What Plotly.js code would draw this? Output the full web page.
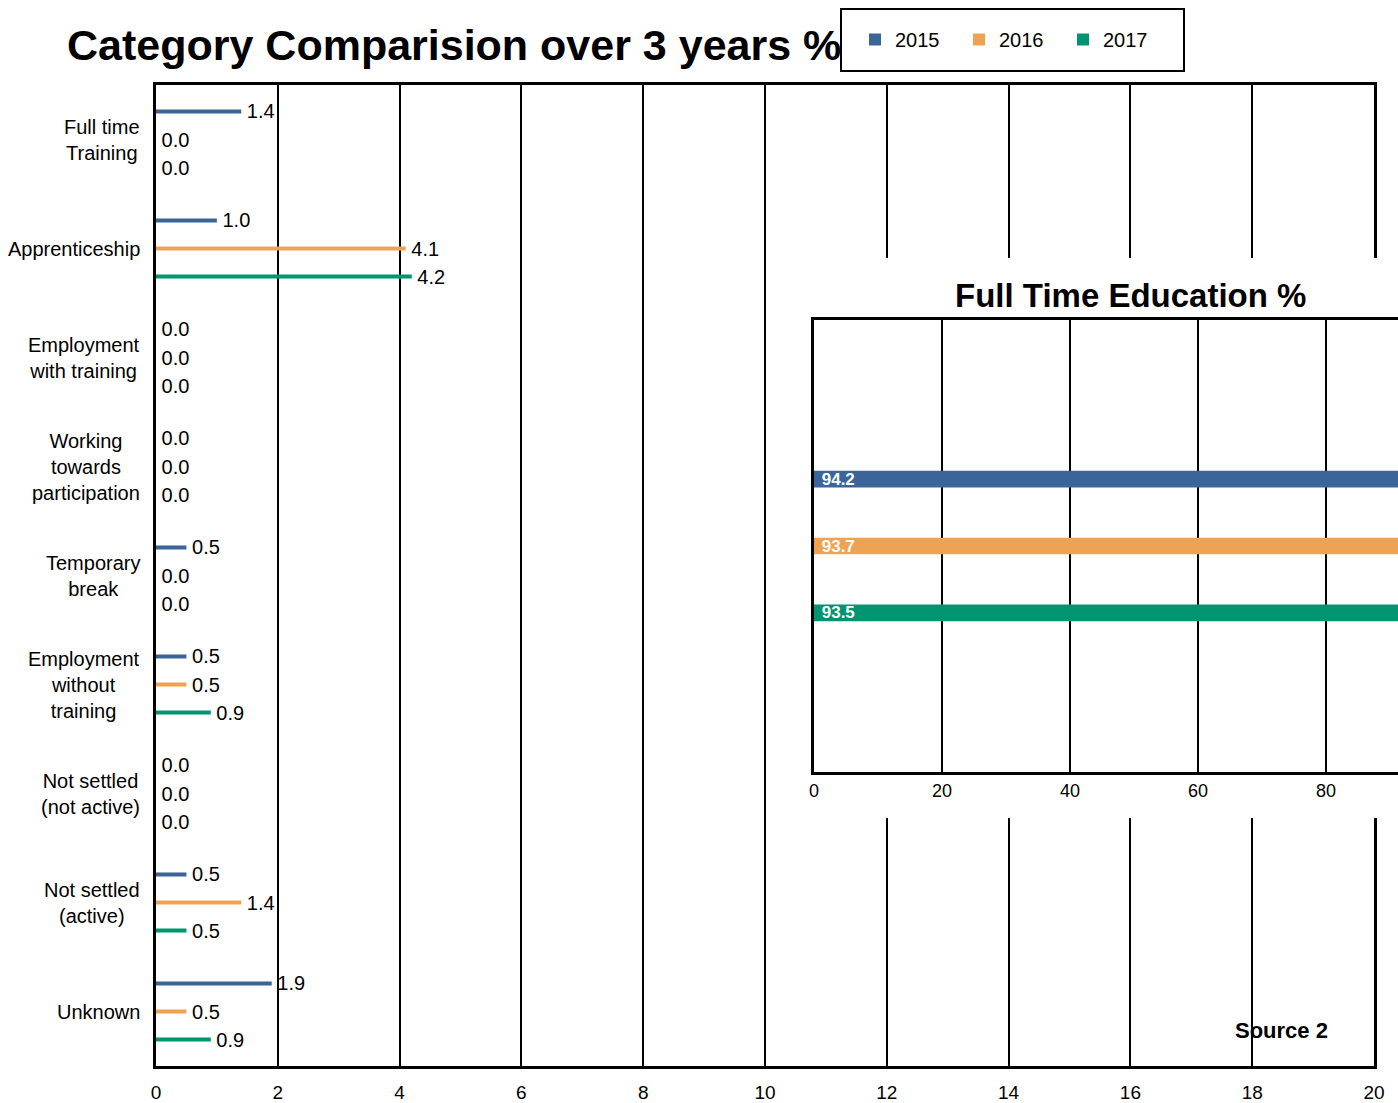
<!DOCTYPE html>
<html>
<head>
<meta charset="utf-8">
<script src="https://cdn.plot.ly/plotly-3.0.1.min.js"></script>
<style>html,body{margin:0;padding:0;background:#fff;}#chart{width:1398px;height:1103px;}</style>
</head>
<body>
<div id="chart"></div>
<script>
// ---- data ----
const categories = [
  "Full time<br>Training",
  "Apprenticeship",
  "Employment<br>with training",
  "Working<br>towards<br>participation",
  "Temporary<br>break",
  "Employment<br>without<br>training",
  "Not settled<br>(not active)",
  "Not settled<br>(active)",
  "Unknown"
];
const years = ["2015", "2016", "2017"];
const values2015 = [1.4, 1.0, 0.0, 0.0, 0.5, 0.5, 0.0, 0.5, 1.9];
const values2016 = [0.0, 4.1, 0.0, 0.0, 0.0, 0.5, 0.0, 1.4, 0.5];
const values2017 = [0.0, 4.2, 0.0, 0.0, 0.0, 0.9, 0.0, 0.5, 0.9];
const insetCategory = ["Full Time Education"];
const insetValues = [94.2, 93.7, 93.5];
const xTicks = [0, 2, 4, 6, 8, 10, 12, 14, 16, 18, 20];
const insetTicks = [0, 20, 40, 60, 80];

// ---- styles ----
const colors = ["#3B6598", "#EFA352", "#009470"];
const FONT = "Liberation Sans, Arial, sans-serif";
const seriesValues = [values2015, values2016, values2017];

const W = 1398, H = 1103, ML = 156, MR = 0, MT = 85, MB = 37;
const PW = W - ML - MR, PH = H - MT - MB;
const px = v => (v - ML) / PW;
const py = v => (H - MB - v) / PH;

const traces = [];
const mainW = 0.037, mainOff = 0.257;
years.forEach((yr, i) => {
  traces.push({
    type: "bar", orientation: "h", name: yr,
    x: seriesValues[i], y: categories,
    width: mainW, offset: (i - 1) * mainOff - mainW / 2,
    marker: { color: colors[i], line: { width: 0 } },
    texttemplate: "\u00a0%{x:.1f}", textposition: "outside",
    constraintext: "none", cliponaxis: false,
    textfont: { family: FONT, size: 20, color: "#000" },
    hoverinfo: "x+name", xaxis: "x", yaxis: "y"
  });
});
// white cover subplot (drawn between main chart and inset)
traces.push({ type: "scatter", x: [], y: [], xaxis: "x2", yaxis: "y2", showlegend: false, hoverinfo: "skip" });
// inset
const insW = 0.037, insOff = 0.148;
years.forEach((yr, i) => {
  traces.push({
    type: "bar", orientation: "h", name: yr, showlegend: false,
    x: [insetValues[i]], y: insetCategory,
    width: insW, offset: (i - 1) * insOff - insW / 2,
    marker: { color: colors[i], line: { width: 0 } },
    texttemplate: "\u00a0%{x:.1f}", textposition: "inside", insidetextanchor: "start",
    constraintext: "none",
    textfont: { family: FONT, size: 17, color: "#fff", weight: "bold" },
    insidetextfont: { family: FONT, size: 17, color: "#fff", weight: "bold" },
    xaxis: "x3", yaxis: "y3"
  });
});

const annotations = categories.map(c => ({
  xref: "paper", yref: "y", x: px(142), y: c, xanchor: "right", yanchor: "middle",
  text: c, align: "center", showarrow: false,
  font: { family: FONT, size: 20, color: "#000" }
}));
annotations.push({
  xref: "paper", yref: "paper", x: px(1130), y: py(295), xanchor: "center", yanchor: "middle",
  text: "<b>Full Time Education %</b>", showarrow: false,
  font: { family: FONT, size: 33, color: "#000" }
});
annotations.push({
  xref: "paper", yref: "paper", x: px(1281), y: py(1030), xanchor: "center", yanchor: "middle",
  text: "<b>Source 2</b>", showarrow: false,
  font: { family: FONT, size: 22, color: "#000" }
});

const layout = {
  width: W, height: H,
  margin: { l: ML, r: MR, t: MT, b: MB, pad: 0 },
  paper_bgcolor: "#fff", plot_bgcolor: "#fff",
  font: { family: FONT, color: "#000" },
  barmode: "overlay",
  showlegend: true,
  title: {
    text: "<b>Category Comparision over 3 years %</b>",
    font: { family: FONT, size: 43, color: "#000" },
    xref: "container", yref: "container",
    x: 67 / W, xanchor: "left", y: 1 - 45 / H, yanchor: "middle"
  },
  legend: {
    orientation: "h", x: px(855), xanchor: "left", y: py(20), yanchor: "top",
    font: { family: FONT, size: 20, color: "#000" },
    bgcolor: "rgba(0,0,0,0)", borderwidth: 0,
    entrywidth: 59, entrywidthmode: "pixels", traceorder: "normal"
  },
  xaxis: {
    domain: [0, px(1374)], range: [0, 20], tickvals: xTicks,
    showgrid: true, gridcolor: "#000", gridwidth: 2, zeroline: false,
    showline: true, linecolor: "#000", linewidth: 3, mirror: true,
    ticks: "", ticklabelstandoff: 7,
    tickfont: { family: FONT, size: 19, color: "#000" },
    fixedrange: true
  },
  yaxis: {
    type: "category", categoryarray: categories, range: [8.5, -0.5],
    showticklabels: false, showgrid: false, zeroline: false,
    showline: true, linecolor: "#000", linewidth: 3, mirror: true,
    ticks: "", fixedrange: true
  },
  xaxis2: { domain: [px(795), 1], anchor: "y2", visible: false, range: [0, 1] },
  yaxis2: { domain: [py(818), py(258)], anchor: "x2", visible: false, range: [0, 1] },
  xaxis3: {
    domain: [px(814), 1], anchor: "y3", range: [0, 584 / 6.4], tickvals: insetTicks,
    showgrid: true, gridcolor: "#000", gridwidth: 2, zeroline: false,
    showline: true, linecolor: "#000", linewidth: 3, mirror: true,
    ticks: "", ticklabelstandoff: 0,
    tickfont: { family: FONT, size: 18, color: "#000" }, fixedrange: true
  },
  yaxis3: {
    domain: [py(772), py(320)], anchor: "x3", type: "category", range: [0.5, -0.5],
    showticklabels: false, showgrid: false, zeroline: false,
    showline: true, linecolor: "#000", linewidth: 3, mirror: false,
    ticks: "", fixedrange: true
  },
  shapes: [{
    type: "rect", xref: "paper", yref: "paper", layer: "above",
    x0: px(841), x1: px(1184), y0: py(71), y1: py(9),
    line: { color: "#000", width: 2 }, fillcolor: "rgba(0,0,0,0)"
  }],
  annotations: annotations
};

Plotly.newPlot("chart", traces, layout, { displayModeBar: false, staticPlot: true });
</script>
</body>
</html>
